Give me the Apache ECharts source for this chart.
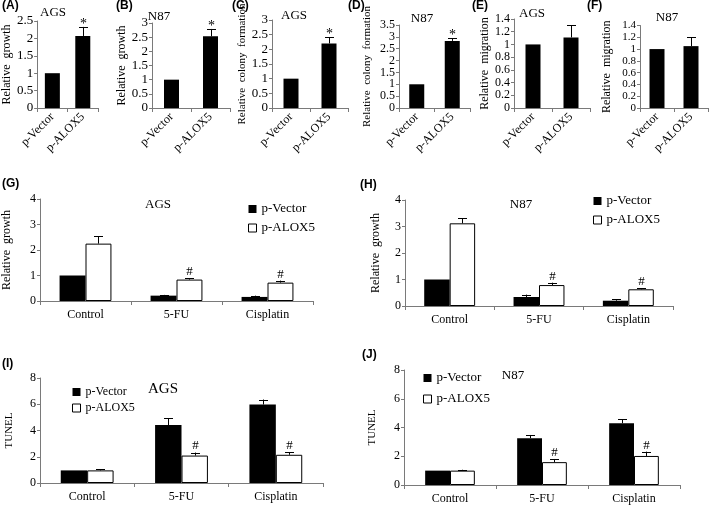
<!DOCTYPE html>
<html><head><meta charset="utf-8">
<script src="https://cdn.jsdelivr.net/npm/echarts@6/dist/echarts.min.js"></script>
<style>html,body{margin:0;padding:0;background:#fff}#c{width:709px;height:506px}</style>
</head><body><div id="c"></div>
<script>
// ---------- data ----------
const topCats = ['p-Vector', 'p-ALOX5'];
const groupCats = ['Control', '5-FU', 'Cisplatin'];
const legendNames = ['p-Vector', 'p-ALOX5'];

// (A) AGS relative growth
const aMean = [1, 2.07]; const aSd = [0, 0.26]; const aMark = ['', '*'];
// (B) N87 relative growth
const bMean = [1, 2.53]; const bSd = [0, 0.26]; const bMark = ['', '*'];
// (C) AGS relative colony formation
const cMean = [1, 2.2]; const cSd = [0, 0.21]; const cMark = ['', '*'];
// (D) N87 relative colony formation
const dMean = [1, 2.83]; const dSd = [0, 0.11]; const dMark = ['', '*'];
// (E) AGS relative migration
const eMean = [1, 1.11]; const eSd = [0, 0.19]; const eMark = ['', ''];
// (F) N87 relative migration
const fMean = [1, 1.05]; const fSd = [0, 0.15]; const fMark = ['', ''];

// (G) AGS relative growth with drugs
const gVector = [1, 0.21, 0.16]; const gVectorSd = [0, 0.03, 0.05];
const gAlox = [2.25, 0.84, 0.72]; const gAloxSd = [0.28, 0.06, 0.08]; const gMark = ['', '#', '#'];
// (H) N87 relative growth with drugs
const hVector = [1, 0.34, 0.2]; const hVectorSd = [0, 0.09, 0.06];
const hAlox = [3.12, 0.79, 0.63]; const hAloxSd = [0.19, 0.09, 0.04]; const hMark = ['', '#', '#'];
// (I) AGS TUNEL
const iVector = [0.96, 4.42, 5.98]; const iVectorSd = [0, 0.5, 0.38];
const iAlox = [0.96, 2.09, 2.15]; const iAloxSd = [0.1, 0.23, 0.21]; const iMark = ['', '#', '#'];
// (J) N87 TUNEL
const jVector = [1, 3.26, 4.3]; const jVectorSd = [0, 0.22, 0.27];
const jAlox = [1, 1.59, 2.02]; const jAloxSd = [0.06, 0.22, 0.3]; const jMark = ['', '#', '#'];

// ---------- styles ----------
const SERIF = '"Liberation Serif", "Times New Roman", serif';
const SANS = '"Liberation Sans", Arial, sans-serif';
const AXIS_COLOR = '#7a7a7a';

const grids = [], xAxes = [], yAxes = [], series = [], legends = [], graphics = [];
const NO_MARKS = ['', '', ''];

function errRender(marks, sign, catGap, cap, markFont, markDy) {
  return function (params, api) {
    const i = api.value(0), mean = api.value(1), sd = api.value(2);
    const mark = marks[params.dataIndex];
    const cw = api.size([1, 0])[0];
    let off = 0;
    if (sign !== 0) { const bw = cw * (1 - catGap) / 2; off = sign * bw / 2; }
    const p0 = api.coord([i, mean]);
    const p1 = api.coord([i, mean + sd]);
    const x = Math.round(p0[0] + off) + 0.5;
    const children = [];
    if (sd > 0) {
      children.push({ type: 'line', shape: { x1: x, y1: p0[1], x2: x, y2: p1[1] }, style: { stroke: '#000', lineWidth: 1 } });
      children.push({ type: 'line', shape: { x1: x - cap, y1: Math.round(p1[1]) + 0.5, x2: x + cap, y2: Math.round(p1[1]) + 0.5 }, style: { stroke: '#000', lineWidth: 1 } });
    }
    if (mark) {
      children.push({ type: 'text', x: x, y: p1[1] + markDy, style: { text: mark, align: 'center', verticalAlign: 'bottom', font: markFont, fill: '#000' } });
    }
    return { type: 'group', children: children };
  };
}

function yAxisBase(gi, max, interval, name, nameGap, nameSize, labelSize) {
  return {
    type: 'value', gridIndex: gi, min: 0, max: max, interval: interval,
    name: name, nameLocation: 'middle', nameRotate: 90, nameGap: nameGap,
    nameTextStyle: { fontFamily: SERIF, fontSize: nameSize, color: '#000' },
    axisLine: { show: true, lineStyle: { color: AXIS_COLOR, width: 1 } },
    axisTick: { show: true, length: 3, lineStyle: { color: AXIS_COLOR } },
    axisLabel: { fontFamily: SERIF, fontSize: labelSize, color: '#000', margin: 4, showMinLabel: true, showMaxLabel: true },
    splitLine: { show: false }
  };
}

// top panels
const topPanels = [
  { mean: aMean, sd: aSd, mark: aMark, grid: [36, 21, 62, 87], max: 2.5, iv: 0.5, lsize: 13, name: 'Relative  growth', gap: 22, nsize: 12, title: 'AGS', tx: 53, ty: 13, letter: '(A)', lx: 2 },
  { mean: bMean, sd: bSd, mark: bMark, grid: [152, 23, 78, 85], max: 3, iv: 0.5, lsize: 13, name: 'Relative  growth', gap: 22, nsize: 12, title: 'N87', tx: 159, ty: 17, letter: '(B)', lx: 116 },
  { mean: cMean, sd: cSd, mark: cMark, grid: [272, 20, 76, 88], max: 3, iv: 0.5, lsize: 13, name: 'Relative  colony  formation', gap: 22, nsize: 11, title: 'AGS', tx: 294, ty: 16, letter: '(C)', lx: 232 },
  { mean: dMean, sd: dSd, mark: dMark, grid: [399, 25, 71, 83], max: 3.5, iv: 0.5, lsize: 12, name: 'Relative  colony  formation', gap: 26, nsize: 11, title: 'N87', tx: 422, ty: 19, letter: '(D)', lx: 348 },
  { mean: eMean, sd: eSd, mark: eMark, grid: [514, 19, 76, 89], max: 1.4, iv: 0.2, lsize: 12, name: 'Relative  migration', gap: 22, nsize: 12, title: 'AGS', tx: 532, ty: 14, letter: '(E)', lx: 472 },
  { mean: fMean, sd: fSd, mark: fMark, grid: [640, 25.5, 68, 82.5], max: 1.4, iv: 0.2, lsize: 11, name: 'Relative  migration', gap: 27, nsize: 12, title: 'N87', tx: 667, ty: 18, letter: '(F)', lx: 587 }
];

topPanels.forEach(function (p) {
  const gi = grids.length;
  grids.push({ left: p.grid[0], top: p.grid[1], width: p.grid[2], height: p.grid[3] });
  xAxes.push({
    type: 'category', gridIndex: gi, data: topCats,
    axisLine: { lineStyle: { color: AXIS_COLOR } },
    axisTick: { show: true, length: 4, lineStyle: { color: AXIS_COLOR } },
    axisLabel: { rotate: 45, interval: 0, fontFamily: SERIF, fontSize: 12, color: '#000', margin: 7 }
  });
  yAxes.push(yAxisBase(gi, p.max, p.iv, p.name, p.gap, p.nsize, p.lsize));
  series.push({
    type: 'bar', xAxisIndex: gi, yAxisIndex: gi, data: p.mean, barWidth: 15,
    itemStyle: { color: '#000' }, silent: true, animation: false
  });
  series.push({
    type: 'custom', xAxisIndex: gi, yAxisIndex: gi, silent: true, animation: false, z: 5,
    data: p.mean.map(function (m, i) { return [i, m, p.sd[i]]; }),
    encode: { x: 0, y: 1 },
    renderItem: errRender(p.mark, 0, 0, 4.5, '14px ' + SERIF, 4)
  });
  graphics.push({ type: 'text', x: p.tx, y: p.ty, style: { text: p.title, font: '13px ' + SERIF, fill: '#000', align: 'center', verticalAlign: 'middle' } });
  graphics.push({ type: 'text', x: p.lx, y: 0, style: { text: p.letter, font: 'bold 12px ' + SANS, fill: '#000', align: 'left', verticalAlign: 'top' } });
});

// grouped panels
const groupPanels = [
  { v: gVector, vs: gVectorSd, a: gAlox, as: gAloxSd, mark: gMark, grid: [38, 199, 275, 102], max: 4, iv: 1, name: 'Relative  growth', gap: 27, nsize: 12, gapCat: 0.43,
    title: 'AGS', tx: 158, ty: 205, tsize: 13, letter: '(G)', lx: 2, ly: 178, leg: [248, 202, 13, 5] },
  { v: hVector, vs: hVectorSd, a: hAlox, as: hAloxSd, mark: hMark, grid: [405, 200, 268, 106], max: 4, iv: 1, name: 'Relative  growth', gap: 23, nsize: 12, gapCat: 0.43,
    title: 'N87', tx: 521, ty: 205, tsize: 13, letter: '(H)', lx: 360, ly: 179, leg: [593, 194, 13, 5] },
  { v: iVector, vs: iVectorSd, a: iAlox, as: iAloxSd, mark: iMark, grid: [40, 378, 283, 105], max: 8, iv: 2, name: 'TUNEL', gap: 25, nsize: 11, gapCat: 0.44,
    title: 'AGS', tx: 163, ty: 389, tsize: 15, letter: '(I)', lx: 2, ly: 358, leg: [72, 385, 12, 2] },
  { v: jVector, vs: jVectorSd, a: jAlox, as: jAloxSd, mark: jMark, grid: [404, 370, 276, 115], max: 8, iv: 2, name: 'TUNEL', gap: 26, nsize: 11, gapCat: 0.46,
    title: 'N87', tx: 513, ty: 376, tsize: 13, letter: '(J)', lx: 362, ly: 349, leg: [423, 371, 13, 7] }
];

groupPanels.forEach(function (p) {
  const gi = grids.length;
  grids.push({ left: p.grid[0], top: p.grid[1], width: p.grid[2], height: p.grid[3] });
  xAxes.push({
    type: 'category', gridIndex: gi, data: groupCats,
    axisLine: { lineStyle: { color: AXIS_COLOR } },
    axisTick: { show: true, length: 4, lineStyle: { color: AXIS_COLOR } },
    axisLabel: { interval: 0, fontFamily: SERIF, fontSize: 12, color: '#000', margin: 8 }
  });
  yAxes.push(yAxisBase(gi, p.max, p.iv, p.name, p.gap, p.nsize, 12));
  const gapStr = Math.round(p.gapCat * 100) + '%';
  series.push({
    type: 'bar', name: legendNames[0], xAxisIndex: gi, yAxisIndex: gi, data: p.v,
    barGap: '0%', barCategoryGap: gapStr, itemStyle: { color: '#000' }, silent: true, animation: false
  });
  series.push({
    type: 'bar', name: legendNames[1], xAxisIndex: gi, yAxisIndex: gi, data: p.a,
    barGap: '0%', barCategoryGap: gapStr, itemStyle: { color: '#fff', borderColor: '#000', borderWidth: 1 }, silent: true, animation: false
  });
  series.push({
    type: 'custom', xAxisIndex: gi, yAxisIndex: gi, silent: true, animation: false, z: 5,
    data: p.v.map(function (m, i) { return [i, m, p.vs[i]]; }),
    encode: { x: 0, y: 1 },
    renderItem: errRender(NO_MARKS, -1, p.gapCat, 4.5, '13px ' + SERIF, 0)
  });
  series.push({
    type: 'custom', xAxisIndex: gi, yAxisIndex: gi, silent: true, animation: false, z: 5,
    data: p.a.map(function (m, i) { return [i, m, p.as[i]]; }),
    encode: { x: 0, y: 1 },
    renderItem: errRender(p.mark, 1, p.gapCat, 4.5, '13px ' + SERIF, 0)
  });
  legends.push({
    orient: 'vertical', left: p.leg[0], top: p.leg[1], padding: 0, itemGap: p.leg[3],
    itemWidth: 8, itemHeight: 8, selectedMode: false,
    textStyle: { fontFamily: SERIF, fontSize: p.leg[2], color: '#000', lineHeight: 14 },
    data: [
      { name: legendNames[0], icon: 'rect', itemStyle: { color: '#000', borderWidth: 0 } },
      { name: legendNames[1], icon: 'rect', itemStyle: { color: '#fff', borderColor: '#000', borderWidth: 1 } }
    ]
  });
  graphics.push({ type: 'text', x: p.tx, y: p.ty, style: { text: p.title, font: p.tsize + 'px ' + SERIF, fill: '#000', align: 'center', verticalAlign: 'middle' } });
  graphics.push({ type: 'text', x: p.lx, y: p.ly, style: { text: p.letter, font: 'bold 12px ' + SANS, fill: '#000', align: 'left', verticalAlign: 'top' } });
});

const chart = echarts.init(document.getElementById('c'), null, { renderer: 'canvas' });
chart.setOption({
  backgroundColor: '#fff',
  animation: false,
  grid: grids, xAxis: xAxes, yAxis: yAxes, series: series, legend: legends,
  graphic: graphics
});
</script></body></html>
